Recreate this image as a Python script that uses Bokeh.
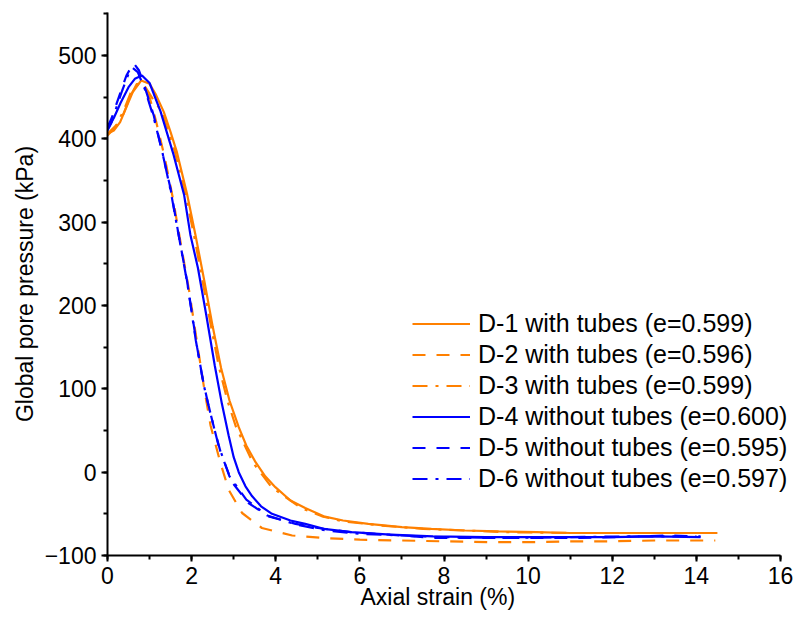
from bokeh.plotting import figure
from bokeh.models import Legend, LegendItem, Range1d, SingleIntervalTicker, Title
from bokeh.embed import file_html
from bokeh.resources import INLINE

# D-1 with tubes (orange solid)
x1 = [0, 0.15, 0.3, 0.45, 0.6, 0.8, 1.0, 1.15, 1.34, 1.5, 1.65, 1.89, 2.09, 2.3, 2.5, 2.7, 2.9, 3.12, 3.3, 3.52, 3.75, 3.99, 4.35, 4.7, 5.14, 5.6, 6.2, 7.0, 7.7, 8.5, 9.3, 10.2, 11, 12, 13, 14, 14.5]
y1 = [406, 410, 420, 438, 456, 470, 466, 453, 432, 408, 384, 334, 285, 230, 175, 125, 86, 54, 32, 12, -5, -18, -34, -43, -53, -58, -62, -66, -68, -70, -71, -72, -73, -73, -73, -73, -73]
# D-2 with tubes (orange dashed)
x2 = [0, 0.2, 0.38, 0.55, 0.7, 0.85, 1.0, 1.15, 1.35, 1.55, 1.75, 1.95, 2.13, 2.3, 2.45, 2.68, 2.88, 3.2, 3.67, 4.39, 5.13, 6, 7, 8, 9.1, 10, 11, 12, 13, 14.45]
y2 = [406, 416, 430, 452, 466, 463, 450, 422, 380, 330, 272, 215, 155, 100, 56, 12, -21, -49, -67, -76, -79, -81, -82, -83, -84, -84, -83, -83, -82, -82]
# D-3 with tubes (orange dash-dot)
x3 = [0, 0.2, 0.4, 0.55, 0.72, 0.9, 1.1, 1.3, 1.6, 1.85, 2.05, 2.25, 2.45, 2.65, 2.85, 3.05, 3.45, 3.9, 4.6, 5.1, 5.6, 6.5, 7.5, 8.5, 9.5, 11, 12.5, 14.5]
y3 = [404, 415, 436, 455, 466, 462, 446, 432, 385, 334, 286, 232, 178, 126, 86, 55, 12, -18, -43, -53, -59, -64, -68, -70, -72, -73, -73, -73]
# D-4 without tubes (blue solid)
x4 = [0, 0.15, 0.31, 0.5, 0.65, 0.82, 1.0, 1.26, 1.57, 1.82, 1.97, 2.15, 2.35, 2.55, 2.72, 2.88, 3.0, 3.12, 3.28, 3.44, 3.65, 3.91, 4.35, 4.7, 5.14, 5.8, 6.72, 7.74, 9, 10, 11, 12, 13, 14.1]
y4 = [412, 425, 443, 462, 472, 476, 467, 433, 381, 333, 285, 245, 188, 128, 82, 44, 18, 0, -17, -29, -41, -50, -58, -62, -68, -72, -75, -77, -78, -78, -78, -78, -77, -78]
# D-5 without tubes (blue dashed)
x5 = [0, 0.1, 0.2, 0.31, 0.45, 0.62, 0.75, 0.9, 1.1, 1.26, 1.5, 1.69, 1.89, 2.13, 2.25, 2.4, 2.55, 2.7, 2.96, 3.35, 3.83, 4.47, 5.0, 5.77, 6.7, 7.74, 9, 10.9, 12, 13.3, 14.1]
y5 = [414, 425, 440, 456, 476, 491, 482, 460, 428, 393, 340, 285, 230, 150, 115, 80, 50, 22, -12, -37, -53, -62, -67, -72, -75, -79, -79, -79, -78, -76, -77]
# D-6 without tubes (blue dash-dot)
x6 = [0, 0.1, 0.2, 0.35, 0.5, 0.6, 0.72, 0.9, 1.1, 1.3, 1.5, 1.7, 1.9, 2.1, 2.3, 2.45, 2.64, 2.9, 3.3, 3.8, 4.5, 5.2, 6, 7, 8, 9.5, 11, 12.5, 14.0]
y6 = [410, 420, 436, 458, 478, 485, 480, 458, 425, 385, 338, 282, 226, 158, 102, 70, 32, -5, -33, -52, -63, -70, -74, -76, -78, -79, -78, -77, -77]

labels = ["D-1 with tubes (e=0.599)", "D-2 with tubes (e=0.596)", "D-3 with tubes (e=0.599)",
          "D-4 without tubes (e=0.600)", "D-5 without tubes (e=0.595)", "D-6 without tubes (e=0.597)"]
x_title = "Axial strain (%)"
y_title = "Global pore pressure (kPa)"

ORANGE = "#FF8000"
BLUE = "#0000FF"
FONT = "Liberation Sans"

# frame runs to the right edge so the legend is not clipped; axis drawn only 0..16
p = figure(width=797, height=640, output_backend="svg", toolbar_location=None,
           x_range=Range1d(0, 16.404), y_range=Range1d(-100, 551.6),
           min_border_left=107, min_border_right=0, min_border_top=12, min_border_bottom=85)
p.outline_line_color = None
p.grid.visible = False
p.background_fill_color = "white"
p.border_fill_color = "white"

series = [(x1, y1, ORANGE, "solid"), (x2, y2, ORANGE, "13 11"), (x3, y3, ORANGE, "15 8 3 8"),
          (x4, y4, BLUE, "solid"), (x5, y5, BLUE, "13 11"), (x6, y6, BLUE, "15 8 3 8")]
items = []
for (xs, ys, c, d), lab in zip(series, labels):
    r = p.line(xs, ys, line_color=c, line_width=2.2, line_dash=d)
    items.append(LegendItem(label=lab, renderers=[r]))

p.xaxis.ticker = SingleIntervalTicker(interval=2, num_minor_ticks=2)
p.yaxis.ticker = SingleIntervalTicker(interval=100, num_minor_ticks=2)
p.xaxis.bounds = (0, 16)
for ax in (p.xaxis[0], p.yaxis[0]):
    ax.axis_line_width = 2
    ax.axis_line_color = "black"
    ax.major_tick_line_width = 2
    ax.minor_tick_line_width = 2
    ax.major_tick_in = 0
    ax.major_tick_out = 6
    ax.minor_tick_in = 0
    ax.minor_tick_out = 4
    ax.major_label_text_font = FONT
    ax.major_label_text_font_size = "23px"
    ax.major_label_text_color = "black"

xtitle = Title(text=x_title, align="left", text_font=FONT, text_font_size="23px",
               text_font_style="normal", text_color="black", standoff=-10, offset=253)
p.add_layout(xtitle, "below")

ytitle = Title(text=y_title, align="center", text_font=FONT, text_font_size="23px",
               text_font_style="normal", text_color="black", standoff=7, offset=7)
p.add_layout(ytitle, "left")

legend = Legend(items=items, location=(305, 61))
legend.border_line_color = None
legend.background_fill_alpha = 0
legend.label_text_font = FONT
legend.label_text_font_size = "25px"
legend.label_text_color = "black"
legend.glyph_width = 58
legend.glyph_height = 31
legend.label_height = 31
legend.spacing = 0
legend.padding = 5
legend.margin = 0
legend.label_standoff = 8
p.add_layout(legend)

open("out.html", "w").write(file_html(p, INLINE))
